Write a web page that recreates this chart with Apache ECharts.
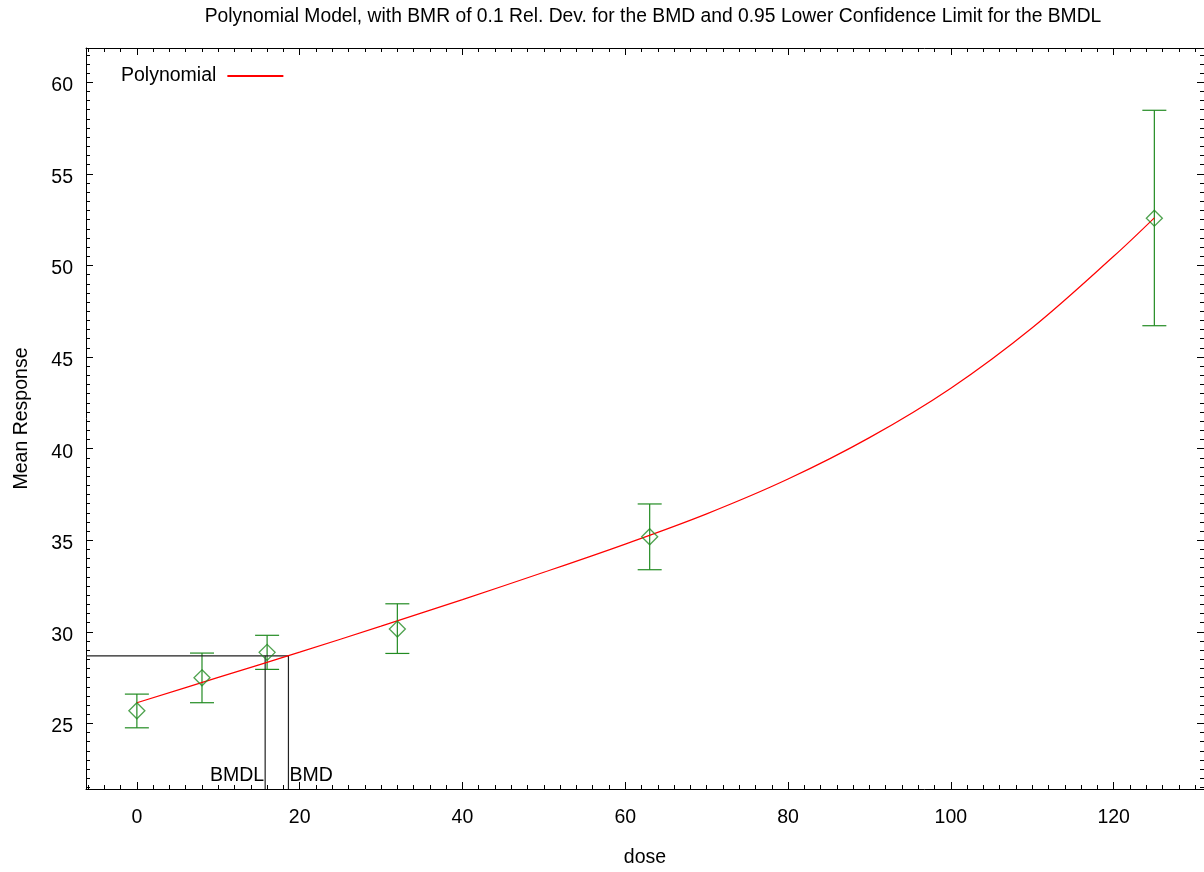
<!DOCTYPE html>
<html>
<head>
<meta charset="utf-8">
<style>
  html, body { margin: 0; padding: 0; background: #fff; }
  #chart { width: 1204px; height: 872px; }
</style>
<script src="https://cdn.jsdelivr.net/npm/echarts@6/dist/echarts.min.js"></script>
</head>
<body>
<div id="chart"></div>
<script>
// observed group means with their error bars
const doses = [0, 8, 16, 32, 63, 125]
const means = [25.69, 27.49, 28.88, 30.15, 35.19, 52.58]
const lowerBounds = [24.76, 26.13, 27.95, 28.82, 33.39, 46.71]
const upperBounds = [26.6, 28.84, 29.81, 31.53, 36.98, 58.47]

// fitted polynomial
const curveDoses = [0, 10, 20, 30, 40, 50, 60, 70, 80, 90, 100, 110, 120, 125]
const curveValues = [26.13, 27.51, 28.89, 30.31, 31.76, 33.25, 34.79, 36.44, 38.34, 40.6, 43.3, 46.6, 50.5, 52.6]

// benchmark dose markers
const markerNames = ['BMDL', 'BMD']
const markerDoses = [15.76, 18.62]
const bmdResponse = 28.69

// tick labels
const xTicks = [0, 20, 40, 60, 80, 100, 120]
const yTicks = [25, 30, 35, 40, 45, 50, 55, 60]

const xMin = -6.25
const xMax = 131.1
const yMin = 21.42
const yMax = 61.87

const xMinor = []
for (let v = -6; v <= 130; v += 2) xMinor.push(v)
const yMinor = []
for (let v = 21.5; v <= 61.5; v += 0.5) yMinor.push(v)

const font = 'Liberation Sans, Arial, Helvetica, sans-serif'
const fontSize = 19.5
const green = '#228b22'

function axis(kind, position, values, tickLength, withLabel, withLine) {
  const label = {
    show: withLabel,
    customValues: values,
    color: '#000',
    fontFamily: font,
    fontSize: fontSize,
    margin: kind === 'x' ? 19 : 13
  }
  if (kind === 'y') {
    // gnuplot sets its y labels a few pixels under the tick
    label.verticalAlign = 'top'
    label.lineHeight = 7
  }
  return {
    type: 'value',
    position: position,
    min: kind === 'x' ? xMin : yMin,
    max: kind === 'x' ? xMax : yMax,
    axisLine: { show: withLine, onZero: false, lineStyle: { color: '#000', width: 1 } },
    axisTick: { show: true, inside: true, length: tickLength, customValues: values, lineStyle: { color: '#000', width: 1 } },
    axisLabel: label,
    splitLine: { show: false }
  }
}

const xAxes = [
  Object.assign(axis('x', 'bottom', xTicks, 7, true, true), {
    name: 'dose',
    nameLocation: 'middle',
    nameGap: 59,
    nameTextStyle: { color: '#000', fontFamily: font, fontSize: fontSize }
  }),
  axis('x', 'bottom', xMinor, 4, false, false),
  axis('x', 'top', xTicks, 7, false, true),
  axis('x', 'top', xMinor, 4, false, false)
]

const yAxes = [
  Object.assign(axis('y', 'left', yTicks, 7, true, true), {
    name: 'Mean Response',
    nameLocation: 'middle',
    nameGap: 54,
    nameTextStyle: { color: '#000', fontFamily: font, fontSize: fontSize }
  }),
  axis('y', 'left', yMinor, 4, false, false),
  axis('y', 'right', yTicks, 7, false, true),
  axis('y', 'right', yMinor, 4, false, false)
]

const chart = echarts.init(document.getElementById('chart'))

chart.setOption({
  animation: false,
  title: {
    text: 'Polynomial Model, with BMR of 0.1 Rel. Dev. for the BMD and 0.95 Lower Confidence Limit for the BMDL',
    left: 648,
    textAlign: 'center',
    top: 2,
    textStyle: { color: '#000', fontFamily: font, fontSize: 19.3, fontWeight: 'normal' }
  },
  legend: {
    data: ['Polynomial'],
    left: 116,
    top: 61,
    align: 'right',
    itemWidth: 56,
    itemHeight: 14,
    itemStyle: { opacity: 0 },
    textStyle: { color: '#000', fontFamily: font, fontSize: fontSize, padding: [0, 6, 0, 0] }
  },
  grid: { left: 86, right: 0, top: 48, bottom: 83, outerBoundsMode: 'none' },
  xAxis: xAxes,
  yAxis: yAxes,
  series: [
    {
      name: 'Error bars',
      type: 'custom',
      data: doses.map((d, i) => [d, lowerBounds[i], upperBounds[i]]),
      renderItem: function (params, api) {
        const low = api.coord([api.value(0), api.value(1)])
        const high = api.coord([api.value(0), api.value(2)])
        const half = 12
        const style = { stroke: green, lineWidth: 1.2 }
        return {
          type: 'group',
          children: [
            { type: 'line', shape: { x1: low[0], y1: low[1], x2: high[0], y2: high[1] }, style: style },
            { type: 'line', shape: { x1: low[0] - half, y1: low[1], x2: low[0] + half, y2: low[1] }, style: style },
            { type: 'line', shape: { x1: high[0] - half, y1: high[1], x2: high[0] + half, y2: high[1] }, style: style }
          ]
        }
      },
      z: 2
    },
    {
      name: 'Polynomial',
      type: 'line',
      data: curveDoses.map((d, i) => [d, curveValues[i]]),
      smooth: 0.35,
      symbol: 'none',
      lineStyle: { color: '#ff0000', width: 1.2 },
      itemStyle: { color: '#ff0000' },
      z: 3
    },
    {
      name: 'Means',
      type: 'scatter',
      data: doses.map((d, i) => [d, means[i]]),
      symbol: 'diamond',
      symbolSize: 16,
      itemStyle: { color: 'rgba(0,0,0,0)', borderColor: green, borderWidth: 1.3 },
      z: 4
    },
    {
      name: 'BMD line',
      type: 'line',
      data: [[xMin, bmdResponse], [markerDoses[1], bmdResponse], [markerDoses[1], yMin]],
      symbol: 'none',
      lineStyle: { color: '#222', width: 1.2 },
      z: 2
    },
    {
      name: 'BMDL line',
      type: 'line',
      data: [[markerDoses[0], bmdResponse], [markerDoses[0], yMin]],
      symbol: 'none',
      lineStyle: { color: '#222', width: 1.2 },
      z: 2
    },
    {
      name: 'Marker labels',
      type: 'custom',
      data: markerDoses.map((d, i) => [d, yMin, i]),
      renderItem: function (params, api) {
        const pt = api.coord([api.value(0), api.value(1)])
        const isLower = params.dataIndex === 0
        return {
          type: 'text',
          x: pt[0] + (isLower ? -1 : 1),
          y: pt[1] - 13,
          style: {
            text: markerNames[params.dataIndex],
            textAlign: isLower ? 'right' : 'left',
            textVerticalAlign: 'middle',
            fontFamily: font,
            fontSize: fontSize,
            fill: '#000'
          }
        }
      },
      z: 5
    }
  ]
})
</script>
</body>
</html>
